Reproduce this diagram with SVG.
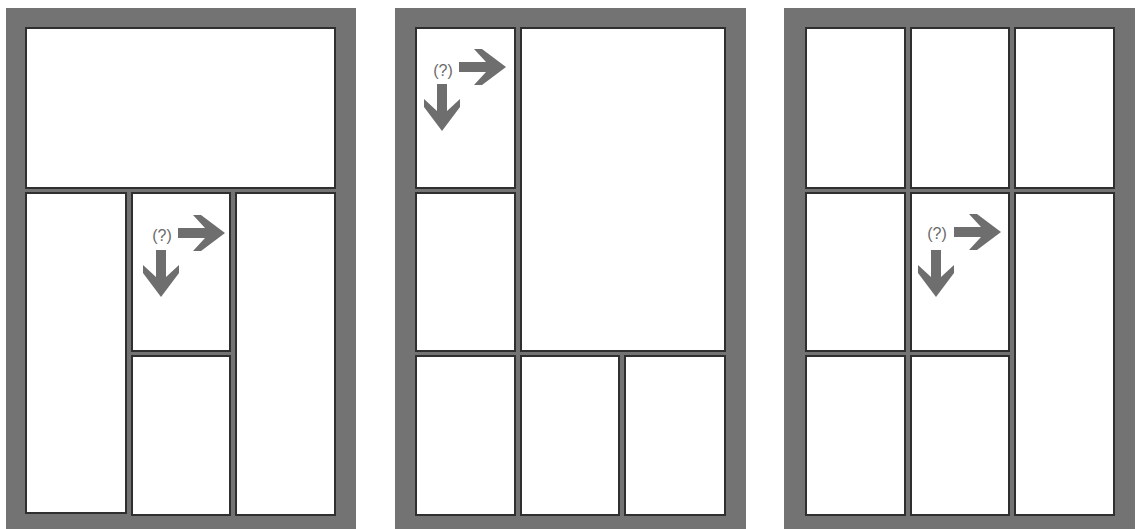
<svg xmlns="http://www.w3.org/2000/svg" width="1141" height="529" viewBox="0 0 1141 529">
<style>
.frame{fill:#737373}
.panel{fill:#ffffff;stroke:#2f2f2f;stroke-width:2}
.arrow{fill:#6e6e6e}
.q{font-family:"Liberation Sans",Arial,sans-serif;font-size:16px;fill:#6a6a6a;text-anchor:middle}
</style>
<defs>
<path id="arr" d="M-47,-5 L-20,-5 L-32,-18 L-24,-18 L0,0 L-24,18 L-32,18 L-20,5 L-47,5 Z"/>
</defs>
<rect width="1141" height="529" fill="#ffffff"/>
<g id="page1">
<rect class="frame" x="6" y="8" width="350" height="521"/>
<rect id="p1-top" class="panel" x="26" y="28" width="309" height="160"/>
<rect id="p1-left" class="panel" x="26" y="193" width="100" height="320"/>
<rect id="p1-midtop" class="panel" x="132" y="193" width="98" height="158"/>
<rect id="p1-midbottom" class="panel" x="132" y="356" width="98" height="159"/>
<rect id="p1-right" class="panel" x="236" y="193" width="99" height="322"/>
</g>
<g id="page2">
<rect class="frame" x="395" y="8" width="351" height="521"/>
<rect id="p2-a" class="panel" x="416" y="28" width="99" height="160"/>
<rect id="p2-big" class="panel" x="521" y="28" width="204" height="323"/>
<rect id="p2-b" class="panel" x="416" y="193" width="99" height="158"/>
<rect id="p2-c" class="panel" x="416" y="356" width="99" height="159"/>
<rect id="p2-d" class="panel" x="521" y="356" width="98" height="159"/>
<rect id="p2-e" class="panel" x="625" y="356" width="100" height="159"/>
</g>
<g id="page3">
<rect class="frame" x="784" y="8" width="351" height="521"/>
<rect id="p3-r1c1" class="panel" x="806" y="28" width="99" height="160"/>
<rect id="p3-r1c2" class="panel" x="911" y="28" width="98" height="160"/>
<rect id="p3-r1c3" class="panel" x="1015" y="28" width="99" height="160"/>
<rect id="p3-r2c1" class="panel" x="806" y="193" width="99" height="158"/>
<rect id="p3-r2c2" class="panel" x="911" y="193" width="98" height="158"/>
<rect id="p3-r23c3" class="panel" x="1015" y="193" width="99" height="322"/>
<rect id="p3-r3c1" class="panel" x="806" y="356" width="99" height="159"/>
<rect id="p3-r3c2" class="panel" x="911" y="356" width="98" height="159"/>
</g>
<g id="connectors">
<g id="hint1">
<text class="q" x="162" y="241">(?)</text>
<use href="#arr" class="arrow" transform="translate(225,233)"/>
<use href="#arr" class="arrow" transform="translate(161,297) rotate(90)"/>
</g>
<g id="hint2">
<text class="q" x="443" y="76">(?)</text>
<use href="#arr" class="arrow" transform="translate(506,67)"/>
<use href="#arr" class="arrow" transform="translate(442,131) rotate(90)"/>
</g>
<g id="hint3">
<text class="q" x="937" y="239">(?)</text>
<use href="#arr" class="arrow" transform="translate(1001,232)"/>
<use href="#arr" class="arrow" transform="translate(936,297) rotate(90)"/>
</g>
</g>
</svg>
